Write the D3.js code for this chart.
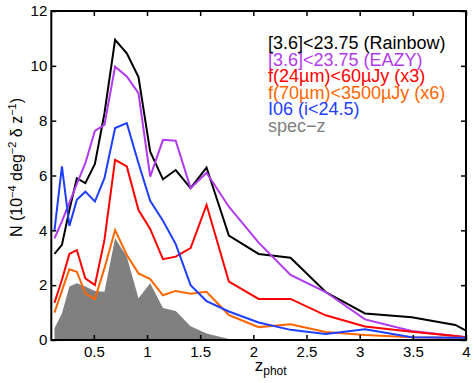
<!DOCTYPE html>
<html>
<head>
<meta charset="utf-8">
<script src="https://cdnjs.cloudflare.com/ajax/libs/d3/7.8.5/d3.min.js"></script>
<style>
    body { margin: 0; background: #fff; }
    svg text { font-family: "Liberation Sans", Arial, sans-serif; }
</style>
</head>
<body>
<div id="myfigure"></div>
<script>
// redshift bin centres
var zBins = [0.13, 0.2, 0.27, 0.34, 0.42, 0.51, 0.6, 0.7, 0.81, 0.92, 1.03, 1.15, 1.27, 1.41, 1.56, 1.77, 2.05, 2.35, 2.68, 3.05, 3.49, 3.9, 4.0];

var rainbow = [3.14, 3.47, 4.74, 5.9, 5.72, 6.42, 8.27, 10.95, 10.46, 9.59, 6.87, 5.86, 6.2, 5.54, 6.29, 3.81, 3.14, 3.0, 1.75, 0.97, 0.83, 0.55, 0.34];
var eazy = [3.71, 4.33, 5.01, 5.69, 6.45, 7.63, 7.85, 9.97, 9.61, 9.0, 5.96, 7.3, 7.27, 5.54, 6.1, 4.86, 3.55, 2.37, 1.75, 0.75, 0.33, 0.15, 0.1];
var f24 = [1.36, 2.2, 3.14, 3.28, 2.25, 2.0, 3.65, 6.57, 6.33, 4.74, 4.05, 2.95, 3.04, 3.35, 4.93, 2.13, 1.5, 1.5, 0.9, 0.49, 0.3, 0.15, 0.1];
var f70 = [1.0, 1.8, 2.58, 2.49, 1.7, 1.49, 2.62, 4.01, 3.1, 2.43, 2.22, 1.63, 1.79, 1.69, 1.76, 0.91, 0.47, 0.57, 0.29, 0.18, 0.1, 0.08, 0.08];
var i06 = [4.0, 6.33, 4.16, 5.11, 5.41, 5.05, 5.9, 7.73, 7.91, 6.45, 5.08, 4.35, 3.5, 2.0, 1.42, 1.04, 0.64, 0.37, 0.22, 0.39, 0.1, 0.08, 0.08];
var specz = [0.43, 0.97, 1.95, 2.07, 1.95, 1.79, 1.76, 3.71, 3.04, 1.52, 2.07, 1.17, 1.06, 0.5, 0.24, 0.04, 0, 0, 0, 0, 0, 0, 0];

var xTicks = [0.5, 1, 1.5, 2, 2.5, 3, 3.5, 4];
var xTickLabels = ["0.5", "1", "1.5", "2", "2.5", "3", "3.5", "4"];
var yTicks = [0, 2, 4, 6, 8, 10, 12];

var legendLabels = ["[3.6]<23.75 (Rainbow)", "[3.6]<23.75 (EAZY)", "f(24\u00b5m)<60\u00b5Jy (x3)", "f(70\u00b5m)<3500\u00b5Jy (x6)", "I06 (i<24.5)", "spec\u2212z"];
var legendColors = ["#000000", "#b23aee", "#ff0000", "#ff6600", "#1f3fff", "#808080"];

var width = 474;
var height = 383;
var margin = { left: 51.3, right: 8, top: 11, bottom: 43 };
var figw = width - margin.left - margin.right;
var figh = height - margin.top - margin.bottom;

var xScale = d3.scaleLinear().domain([0.1, 4]).range([0, figw]);
var yScale = d3.scaleLinear().domain([0, 12]).range([figh, 0]);

var svg = d3.select("#myfigure")
    .append("svg")
    .attr("width", width)
    .attr("height", height)
    .append("g")
    .attr("transform", "translate(" + margin.left + "," + margin.top + ")");

var pts = function(vals) {
    return zBins.map(function(z, i) { return { z: z, v: vals[i] }; });
};

var line = d3.line()
    .x(function(d) { return xScale(d.z); })
    .y(function(d) { return yScale(d.v); });

var area = d3.area()
    .x(function(d) { return xScale(d.z); })
    .y0(yScale(0))
    .y1(function(d) { return yScale(d.v); });

// spec-z histogram as filled area
svg.append("path")
    .datum(pts(specz))
    .attr("d", area)
    .attr("fill", "#808080");

var series = [
    { vals: rainbow, color: legendColors[0] },
    { vals: eazy, color: legendColors[1] },
    { vals: f24, color: legendColors[2] },
    { vals: f70, color: legendColors[3] },
    { vals: i06, color: legendColors[4] }
];

series.forEach(function(s) {
    svg.append("path")
        .datum(pts(s.vals))
        .attr("d", line)
        .attr("fill", "none")
        .attr("stroke", s.color)
        .attr("stroke-width", 2)
        .attr("stroke-linejoin", "miter");
});

// axes, ticks pointing inwards on all four sides
var xAxis = d3.axisBottom(xScale).tickValues(xTicks)
    .tickFormat(function(d, i) { return xTickLabels[i]; })
    .tickSizeInner(-5).tickSizeOuter(0).tickPadding(6);
var xAxisTop = d3.axisTop(xScale).tickValues(xTicks).tickFormat("")
    .tickSizeInner(-5).tickSizeOuter(0);
var yAxis = d3.axisLeft(yScale).tickValues(yTicks)
    .tickSizeInner(-5).tickSizeOuter(0).tickPadding(4);
var yAxisRight = d3.axisRight(yScale).tickValues(yTicks).tickFormat("")
    .tickSizeInner(-5).tickSizeOuter(0);

svg.append("g").attr("transform", "translate(0," + figh + ")").call(xAxis);
svg.append("g").call(xAxisTop);
svg.append("g").call(yAxis);
svg.append("g").attr("transform", "translate(" + figw + ",0)").call(yAxisRight);

svg.selectAll(".domain").remove();
svg.selectAll(".tick line").attr("stroke", "#000").attr("stroke-width", 1.5);
svg.selectAll(".tick text")
    .attr("fill", "#000")
    .style("font-size", "15px");

// frame
svg.append("rect")
    .attr("width", figw)
    .attr("height", figh)
    .attr("fill", "none")
    .attr("stroke", "#000")
    .attr("stroke-width", 2);

// legend
var legend = svg.append("g")
    .attr("transform", "translate(" + (268 - margin.left) + "," + (49 - margin.top) + ")");
legendLabels.forEach(function(t, i) {
    legend.append("text")
        .attr("x", 0)
        .attr("y", i * 16.6)
        .attr("fill", legendColors[i])
        .style("font-size", "18px")
        .text(t);
});

// x label: z_phot
var xl = svg.append("text")
    .attr("x", figw / 2 + 12)
    .attr("y", figh + 31)
    .style("text-anchor", "middle")
    .style("font-size", "17px");
xl.append("tspan").text("z");
xl.append("tspan").attr("dy", 4).style("font-size", "12px").text("phot");

// y label: N (10^-4 deg^-2 dz^-1)
var yl = svg.append("text")
    .attr("transform", "translate(" + (22 - margin.left) + "," + (figh / 2 - 8) + ") rotate(-90)")
    .style("text-anchor", "middle")
    .style("font-size", "16px");
yl.append("tspan").text("N (10");
yl.append("tspan").attr("dy", -6).style("font-size", "11px").text("\u22124");
yl.append("tspan").attr("dy", 6).text(" deg");
yl.append("tspan").attr("dy", -6).style("font-size", "11px").text("\u22122");
yl.append("tspan").attr("dy", 6).text(" \u03b4 z");
yl.append("tspan").attr("dy", -6).style("font-size", "11px").text("\u22121");
yl.append("tspan").attr("dy", 6).text(")");
</script>
</body>
</html>
